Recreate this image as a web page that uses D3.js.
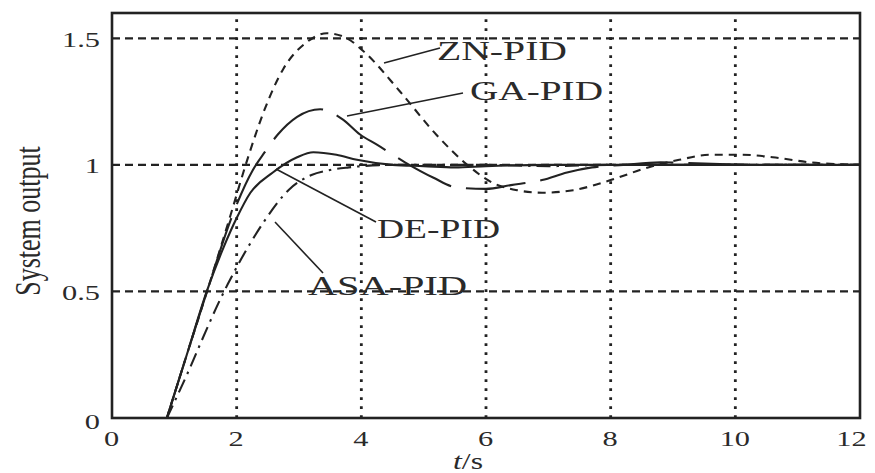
<!DOCTYPE html>
<html>
<head>
<meta charset="utf-8">
<script src="https://cdn.jsdelivr.net/npm/d3@7"></script>
<style>
html,body{margin:0;padding:0;background:#fff;}
svg{display:block;}
text{font-family:"Liberation Serif","Times New Roman",serif;fill:#2a2a2a;}
</style>
</head>
<body>
<svg id="chart" width="875" height="473"></svg>
<script>
// ---- data ----
const xTicks = [0, 2, 4, 6, 8, 10, 12];
const yTicks = [0, 0.5, 1, 1.5];
const xTickLabels = ["0", "2", "4", "6", "8", "10", "12"];
const yTickLabels = ["0", "0.5", "1", "1.5"];

const znT = [0.88, 1.2, 1.55, 1.9, 2.17, 2.45, 2.75, 3.1, 3.45, 3.77, 4.03, 4.62, 5.2, 5.7, 6.1, 6.5, 6.9, 7.4, 8.0, 8.6, 9.1, 9.6, 10.1, 10.6, 11.2, 12];
const znY = [0, 0.25, 0.52, 0.8, 1.02, 1.22, 1.38, 1.48, 1.52, 1.5, 1.45, 1.29, 1.12, 1.0, 0.93, 0.9, 0.89, 0.9, 0.94, 0.99, 1.02, 1.04, 1.04, 1.03, 1.01, 1.0];

const gaT = [0.88, 1.2, 1.55, 1.9, 2.26, 2.45, 2.66, 2.97, 3.34, 3.7, 3.98, 4.25, 4.7, 5.15, 5.54, 6.0, 6.4, 6.9, 7.3, 7.7, 8.2, 8.8, 9.5, 10.5, 12];
const gaY = [0, 0.25, 0.52, 0.78, 0.98, 1.05, 1.12, 1.19, 1.22, 1.18, 1.12, 1.08, 1.01, 0.95, 0.91, 0.905, 0.92, 0.94, 0.97, 0.99, 1.0, 1.01, 1.005, 1.0, 1.0];

const deT = [0.88, 1.2, 1.52, 1.8, 2.0, 2.22, 2.58, 2.97, 3.23, 3.6, 3.93, 4.5, 5.0, 5.5, 6.0, 7.0, 8.0, 9.0, 10.0, 11.0, 12.0];
const deY = [0, 0.25, 0.5, 0.68, 0.79, 0.89, 0.97, 1.03, 1.05, 1.04, 1.02, 1.0, 0.995, 0.99, 0.995, 1.0, 1.0, 1.0, 1.0, 1.0, 1.0];

const asaT = [0.88, 1.2, 1.5, 1.7, 1.86, 2.17, 2.45, 2.83, 3.2, 3.5, 3.8, 4.5, 5.0, 6.0, 7.0, 8.0, 9.0, 10.0, 11.0, 12.0];
const asaY = [0, 0.17, 0.34, 0.45, 0.53, 0.67, 0.78, 0.9, 0.96, 0.98, 0.99, 1.0, 1.0, 1.0, 0.995, 1.0, 1.0, 1.0, 1.0, 1.0];

const seriesNames = ["ZN-PID", "GA-PID", "DE-PID", "ASA-PID"];

// ---- chart ----
const svg = d3.select("#chart");
const x = d3.scaleLinear().domain([0, 12]).range([112, 860]);
const y = d3.scaleLinear().domain([0, 1.6]).range([418, 13]);
const ink = "#222";

// grid
svg.append("g").selectAll("line").data(xTicks.filter(d => d > 0 && d < 12)).join("line")
  .attr("x1", d => x(d)).attr("x2", d => x(d))
  .attr("y1", y(0)).attr("y2", y(1.6))
  .attr("stroke", ink).attr("stroke-width", 2.8)
  .attr("stroke-dasharray", "2.8,6.2");
svg.append("g").selectAll("line").data(yTicks.filter(d => d > 0)).join("line")
  .attr("x1", x(0)).attr("x2", x(12))
  .attr("y1", d => y(d)).attr("y2", d => y(d))
  .attr("stroke", ink).attr("stroke-width", 2.2)
  .attr("stroke-dasharray", "8,5");

// curves
const line = d3.line().x(d => x(d[0])).y(d => y(d[1])).curve(d3.curveMonotoneX);
const zip = (a, b) => a.map((t, i) => [t, b[i]]);
const series = [
  {name: seriesNames[0], data: zip(znT, znY), dash: "8,6"},
  {name: seriesNames[1], data: zip(gaT, gaY), dash: "60,15"},
  {name: seriesNames[2], data: zip(deT, deY), dash: null},
  {name: seriesNames[3], data: zip(asaT, asaY), dash: "14,6,2.5,6"}
];
svg.append("g").selectAll("path").data(series).join("path")
  .attr("d", d => line(d.data))
  .attr("fill", "none").attr("stroke", ink).attr("stroke-width", 2.1)
  .attr("stroke-dasharray", d => d.dash);

// frame
svg.append("rect").attr("x", x(0)).attr("y", y(1.6))
  .attr("width", x(12) - x(0)).attr("height", y(0) - y(1.6))
  .attr("fill", "none").attr("stroke", ink).attr("stroke-width", 2.6);

// axes (labels only; stretched serif digits like the scan)
const sx = 1.38;
const xAxis = d3.axisBottom(x).tickValues(xTicks).tickFormat((d, i) => xTickLabels[i]).tickSize(0);
const gx = svg.append("g").attr("transform", `translate(0,${y(0)})`).call(xAxis);
gx.select(".domain").remove();
gx.selectAll(".tick text")
  .attr("y", 0).attr("dy", 0)
  .style("font-size", "22px").attr("fill", "#2a2a2a")
  .attr("transform", (d, i) => `translate(${i === xTicks.length - 1 ? -9 : -1},28) scale(${sx},1)`);

const yAxis = d3.axisLeft(y).tickValues(yTicks).tickFormat((d, i) => yTickLabels[i]).tickSize(0);
const gy = svg.append("g").attr("transform", `translate(${x(0)},0)`).call(yAxis);
gy.select(".domain").remove();
gy.selectAll(".tick text")
  .attr("x", 0).attr("dy", 0)
  .style("font-size", "22px").attr("fill", "#2a2a2a")
  .attr("text-anchor", "end")
  .attr("transform", d => `translate(-12,${d === 0 ? 10 : 8}) scale(${sx},1)`);

// series labels with leader lines
const labels = [
  {text: seriesNames[0], x: 437, y: 60, w: 130, lx1: 384, ly1: 63, lx2: 440, ly2: 48},
  {text: seriesNames[1], x: 470, y: 100, w: 133, lx1: 347, ly1: 116, lx2: 463, ly2: 93},
  {text: seriesNames[2], x: 377, y: 238, w: 123, lx1: 276, ly1: 169, lx2: 376, ly2: 222},
  {text: seriesNames[3], x: 308, y: 295, w: 159, lx1: 275, ly1: 222, lx2: 323, ly2: 273}
];
svg.append("g").selectAll("line").data(labels).join("line")
  .attr("x1", d => d.lx1).attr("y1", d => d.ly1)
  .attr("x2", d => d.lx2).attr("y2", d => d.ly2)
  .attr("stroke", ink).attr("stroke-width", 1.6);
svg.append("g").selectAll("text").data(labels).join("text")
  .attr("x", d => d.x).attr("y", d => d.y)
  .attr("textLength", d => d.w).attr("lengthAdjust", "spacingAndGlyphs")
  .style("font-size", "27px")
  .text(d => d.text);

// axis titles
const xt = svg.append("text")
  .attr("text-anchor", "middle")
  .attr("transform", `translate(468,469) scale(${sx},1)`)
  .style("font-size", "23px");
xt.append("tspan").style("font-style", "italic").text("t");
xt.append("tspan").text("/s");

svg.append("text")
  .attr("text-anchor", "middle")
  .attr("transform", `translate(40,221) scale(${sx},1) rotate(-90)`)
  .style("font-size", "26px")
  .text("System output");
</script>
</body>
</html>
